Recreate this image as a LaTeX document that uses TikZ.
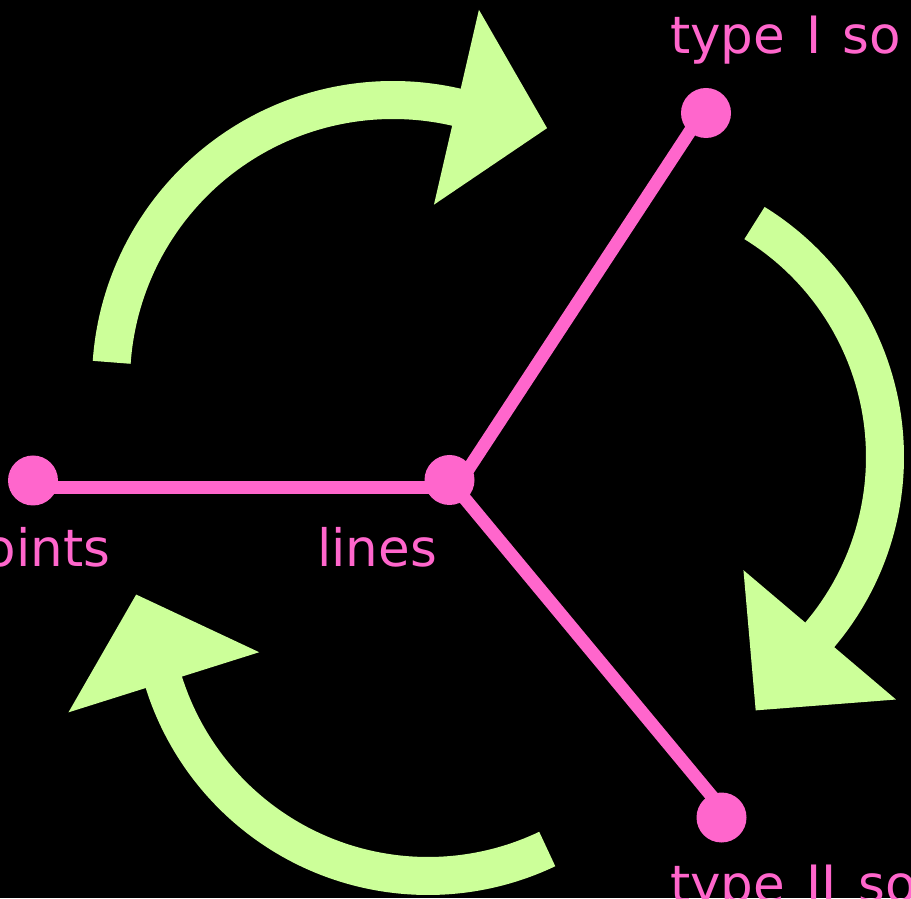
\documentclass[tikz,border=0pt]{standalone}
\usepackage{fontspec}
\setmainfont{DejaVu Sans}[WordSpace=1.3]
\usetikzlibrary{calc}
\definecolor{pinkc}{HTML}{FF66CC}
\definecolor{greenc}{HTML}{CCFF99}
% #1 centre coordinate, #2 radius, #3 start angle, #4 end angle, #5 head length
\newcommand{\cycarrow}[5]{%
  \draw[greenband] ($(#1)+(#3:#2)$) arc[start angle=#3, end angle=#4-2, radius=#2];
  \fill[greenc] ($(#1)+(#4:#2+100)$) -- ($(#1)+(#4:#2)+(#4-90:#5)$) -- ($(#1)+(#4:#2-100)$) -- cycle;
}
\begin{document}
\begin{tikzpicture}[x=1pt,y=1pt,
  dot/.style={circle, fill=pinkc, minimum size=50, inner sep=0pt},
  pinkline/.style={draw=pinkc, line width=13, line join=round},
  greenband/.style={draw=greenc, line width=38, line cap=butt},
  lbl/.style={text=pinkc, inner sep=0pt, font=\fontsize{51.5}{60}\selectfont}]
  \useasboundingbox (0,0) rectangle (911,898);
  \fill[black] (0,0) rectangle (911,898);
  \clip (0,0) rectangle (911,898);
  % arc centres
  \coordinate (ctop) at (393,516);
  \coordinate (cright) at (610,441);
  \coordinate (cbot) at (428,299);
  \cycarrow{ctop}{282}{176}{77}{93}
  \cycarrow{cright}{275}{58.3}{-40.3}{99}
  \cycarrow{cbot}{277}{-64.5}{-162.5}{92}
  % line end points
  \coordinate (lp) at (33,410);
  \coordinate (lj) at (456,410);
  \coordinate (l1) at (702,785);
  \coordinate (l2) at (729,81);
  \draw[pinkline] (lp) -- (lj);
  \draw[pinkline] (lj) -- (l1);
  \draw[pinkline] (lj) -- (l2);
  % dots
  \node[dot] (pts) at (33,417.5) {};
  \node[dot] (lin) at (449.5,418) {};
  \node[dot] (tone) at (706,785) {};
  \node[dot] (ttwo) at (721.5,80.5) {};
  % labels
  \node[lbl, anchor=base east] (tpts) at (110.5,331) {points};
  \node[lbl, anchor=base west] (tlin) at (317,331) {lines};
  \node[lbl, anchor=base west] (tone) at (670,844) {type I so};
  \node[lbl, anchor=base west] (ttwo) at (670,-4) {type II so};
\end{tikzpicture}
\end{document}
